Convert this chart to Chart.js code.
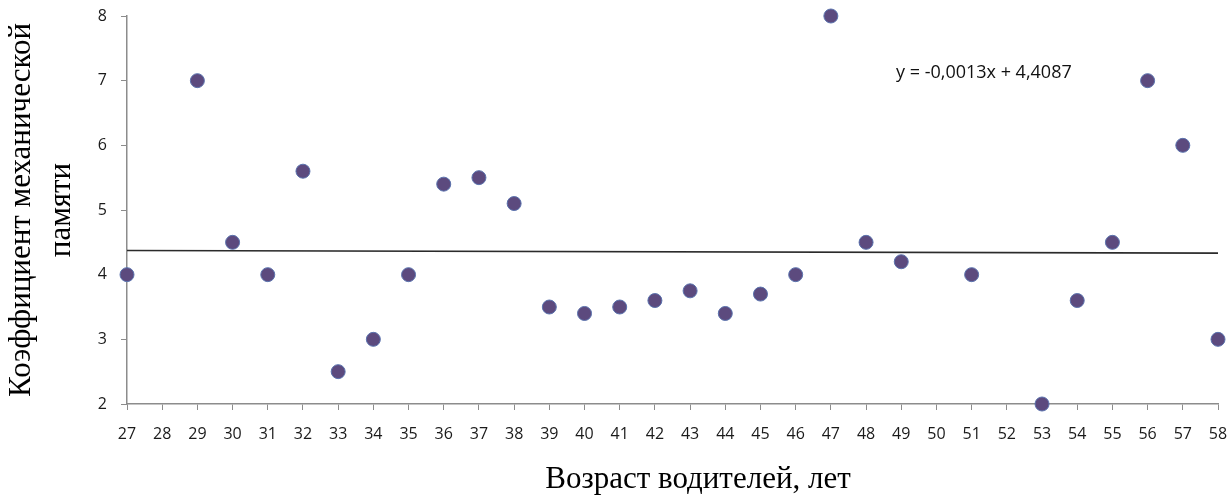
<!DOCTYPE html>
<html>
<head>
<meta charset="utf-8">
<script src="https://cdn.jsdelivr.net/npm/chart.js@4.4.1/dist/chart.umd.min.js"></script>
<style>
  html, body { margin: 0; padding: 0; background: #fff; }
  #wrap { width: 1231px; height: 497px; position: relative; }
</style>
</head>
<body>
<div id="wrap"><canvas id="memoryChart"></canvas></div>
<script>
// Возраст водителей (категории оси X)
const ages = [27, 28, 29, 30, 31, 32, 33, 34, 35, 36, 37, 38, 39, 40, 41, 42,
              43, 44, 45, 46, 47, 48, 49, 50, 51, 52, 53, 54, 55, 56, 57, 58];
// Коэффициент механической памяти (null = нет данных)
const memoryValues = [4, null, 7, 4.5, 4, 5.6, 2.5, 3, 4, 5.4, 5.5, 5.1, 3.5, 3.4, 3.5, 3.6,
                      3.75, 3.4, 3.7, 4, 8, 4.5, 4.2, null, 4, null, 2, 3.6, 4.5, 7, 6, 3];
const yTicks = [2, 3, 4, 5, 6, 7, 8];
// линия тренда из подписи Excel: y = slope * x + intercept
const trendSlope = -0.0013;
const trendIntercept = 4.4087;
const trendLabel = "y = -0,0013x + 4,4087";

const yTitle = ["Коэффициент механической", "памяти"];
const xTitle = "Возраст водителей, лет";

const points = ages
  .map((a, i) => ({ x: a, y: memoryValues[i] }))
  .filter(p => p.y !== null);
const trend = [ages[0], ages[ages.length - 1]].map(a => ({
  x: a,
  y: trendSlope * a + trendIntercept
}));

const textPlugin = {
  id: "textPlugin",
  afterDraw(chart) {
    const ctx = chart.ctx;
    const { x, y } = chart.scales;
    ctx.save();
    // подпись уравнения
    ctx.fillStyle = "#111";
    ctx.font = "18px 'Open Sans', sans-serif";
    ctx.textAlign = "left";
    ctx.textBaseline = "middle";
    ctx.fillText(trendLabel, x.getPixelForValue(48.85), y.getPixelForValue(7.12));
    // названия осей
    ctx.fillStyle = "#000";
    ctx.font = "31px 'Liberation Serif', serif";
    ctx.textAlign = "center";
    ctx.fillText(xTitle, 698, 480);
    const cy = (chart.chartArea.top + chart.chartArea.bottom) / 2;
    ctx.translate(22, cy);
    ctx.rotate(-Math.PI / 2);
    ctx.fillText(yTitle[0], 0, 0);
    ctx.fillText(yTitle[1], 0, 40);
    ctx.restore();
  }
};

const ctx = document.getElementById("memoryChart").getContext("2d");
const chart = new Chart(ctx, {
  type: "scatter",
  data: {
    datasets: [
      {
        label: "Коэффициент",
        data: points,
        backgroundColor: "#5c4a7e",
        borderColor: "#5a72ad",
        borderWidth: 1,
        pointRadius: 7,
        pointHoverRadius: 7,
        clip: false
      },
      {
        label: "Тренд",
        type: "line",
        data: trend,
        borderColor: "#2b2b2b",
        borderWidth: 1.6,
        pointRadius: 0,
        fill: false
      }
    ]
  },
  options: {
    responsive: true,
    maintainAspectRatio: false,
    animation: false,
    layout: { padding: { left: 87, right: 13, top: 16, bottom: 41 } },
    plugins: { legend: { display: false }, tooltip: { enabled: false } },
    scales: {
      x: {
        type: "linear",
        min: ages[0],
        max: ages[ages.length - 1],
        afterBuildTicks: s => { s.ticks = ages.map(v => ({ value: v })); },
        afterFit: s => { s.height = 52; s.paddingLeft = 0; s.paddingRight = 0; },
        grid: { drawOnChartArea: false, drawTicks: true, tickLength: 6, color: "#8c8c8c" },
        border: { display: true, color: "#8c8c8c", width: 1.5 },
        ticks: {
          color: "#1a1a1a",
          font: { family: "'Open Sans', sans-serif", size: 16 },
          padding: 15,
          maxRotation: 0,
          autoSkip: false
        }
      },
      y: {
        min: yTicks[0],
        max: yTicks[yTicks.length - 1],
        afterBuildTicks: s => { s.ticks = yTicks.map(v => ({ value: v })); },
        afterFit: s => { s.width = 40; s.paddingTop = 0; s.paddingBottom = 0; },
        grid: { drawOnChartArea: false, drawTicks: true, tickLength: 6, color: "#8c8c8c" },
        border: { display: true, color: "#8c8c8c", width: 1.5 },
        ticks: {
          color: "#1a1a1a",
          font: { family: "'Open Sans', sans-serif", size: 16 },
          padding: 14
        }
      }
    }
  },
  plugins: [textPlugin]
});
</script>
</body>
</html>
